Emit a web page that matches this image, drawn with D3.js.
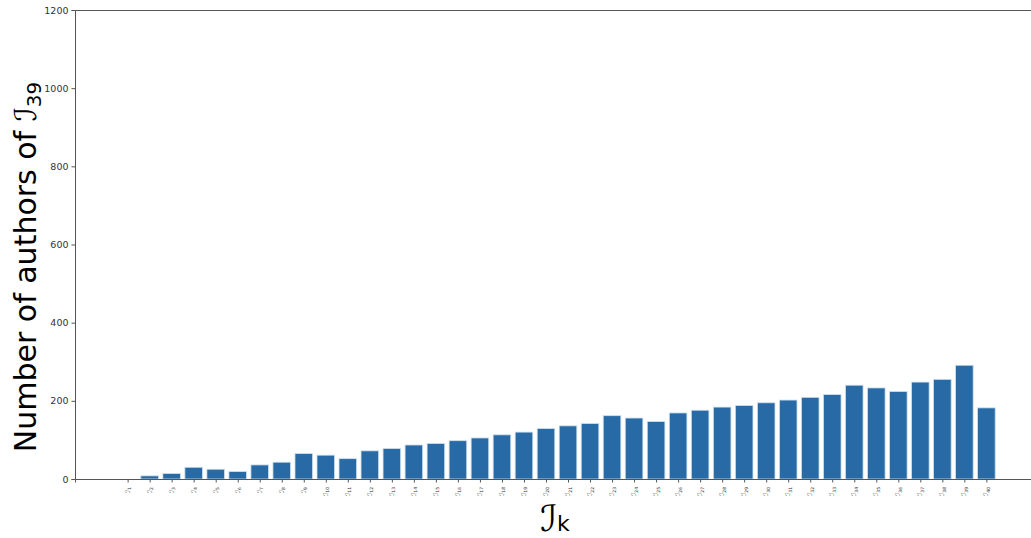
<!DOCTYPE html>
<html><head><meta charset="utf-8">
<script src="https://cdn.jsdelivr.net/npm/d3@7"></script>
<style>body{margin:0;background:#fff;} svg{display:block;}</style>
</head><body>
<svg id="chart" width="1031" height="538"></svg>
<script>
const categories = d3.range(1, 41).map(i => "I" + i);
const subscripts = d3.range(1, 41).map(i => String(i));
const values = [0, 8, 14, 30, 25, 19, 36, 43, 65, 61, 52, 72, 78, 87, 91, 98, 105, 113, 120, 129,
                136, 142, 162, 156, 147, 169, 176, 184, 188, 195, 202, 209, 216, 240, 233, 224, 248, 255, 291, 182];
const yTicks = [0, 200, 400, 600, 800, 1000, 1200];

(function () {
const svg = d3.select("#chart");
const mLeft = 75, mRight = 1039, mTop = 10, mBottom = 479;
const x = d3.scaleLinear().domain([-2.39, 41.39]).range([mLeft, mRight]);
const y = d3.scaleLinear().domain([0, 1200]).range([mBottom, mTop]);
const barW = x(0.8) - x(0);

svg.append("g").selectAll("rect").data(values).join("rect")
  .attr("x", (d, i) => x(i - 0.4))
  .attr("y", d => y(d))
  .attr("width", barW)
  .attr("height", d => y(0) - y(d))
  .attr("fill", "#276aa6")
  .attr("stroke", "#cfe0ee")
  .attr("stroke-width", 0.8);

// y axis
const yAxis = d3.axisLeft(y).tickValues(yTicks).tickSize(3.5).tickPadding(3).tickFormat(d3.format("d"));
const gy = svg.append("g").attr("transform", `translate(${mLeft},0)`).call(yAxis);
gy.select(".domain").attr("stroke", "#555").attr("stroke-width", 1);
gy.selectAll(".tick line").attr("stroke", "#555");
gy.selectAll(".tick text").attr("font-family", "DejaVu Sans").attr("font-size", 9.5).attr("fill", "#333");

// x axis
const xAxis = d3.axisBottom(x).tickValues(d3.range(0, 40)).tickSize(3.5).tickFormat(() => "");
const gx = svg.append("g").attr("transform", `translate(0,${mBottom})`).call(xAxis);
gx.select(".domain").attr("stroke", "#555").attr("stroke-width", 1);
gx.selectAll(".tick line").attr("stroke", "#555");

// rotated tick labels
const lab = svg.append("g").selectAll("text").data(subscripts).join("text")
  .attr("transform", (d, i) => `translate(${x(i) + 2},${mBottom + 8}) rotate(-90)`)
  .attr("text-anchor", "end")
  .attr("font-family", "DejaVu Sans")
  .attr("font-size", 6.5)
  .attr("fill", "#333");
lab.append("tspan").text("ℐ");
lab.append("tspan").attr("font-size", 4.5).attr("dy", 1.5).text(d => d);

// top spine
svg.append("line").attr("x1", mLeft).attr("x2", 1031).attr("y1", mTop + 0.5).attr("y2", mTop + 0.5)
  .attr("stroke", "#555");

// y label
const yl = svg.append("text")
  .attr("transform", `translate(36,267) rotate(-90)`)
  .attr("text-anchor", "middle")
  .attr("font-family", "DejaVu Sans")
  .attr("font-size", 30)
  .attr("fill", "#000");
yl.append("tspan").text("Number of authors of ");
yl.append("tspan").attr("font-style", "italic").text("ℐ");
yl.append("tspan").attr("font-size", 20).attr("dy", 5).text("39");

// x label
const xl = svg.append("text")
  .attr("x", 555).attr("y", 531)
  .attr("text-anchor", "middle")
  .attr("font-family", "DejaVu Sans")
  .attr("font-size", 36)
  .attr("fill", "#000");
xl.append("tspan").attr("font-style", "italic").text("ℐ");
xl.append("tspan").attr("font-size", 22).text("k");
})();
</script>
</body></html>
